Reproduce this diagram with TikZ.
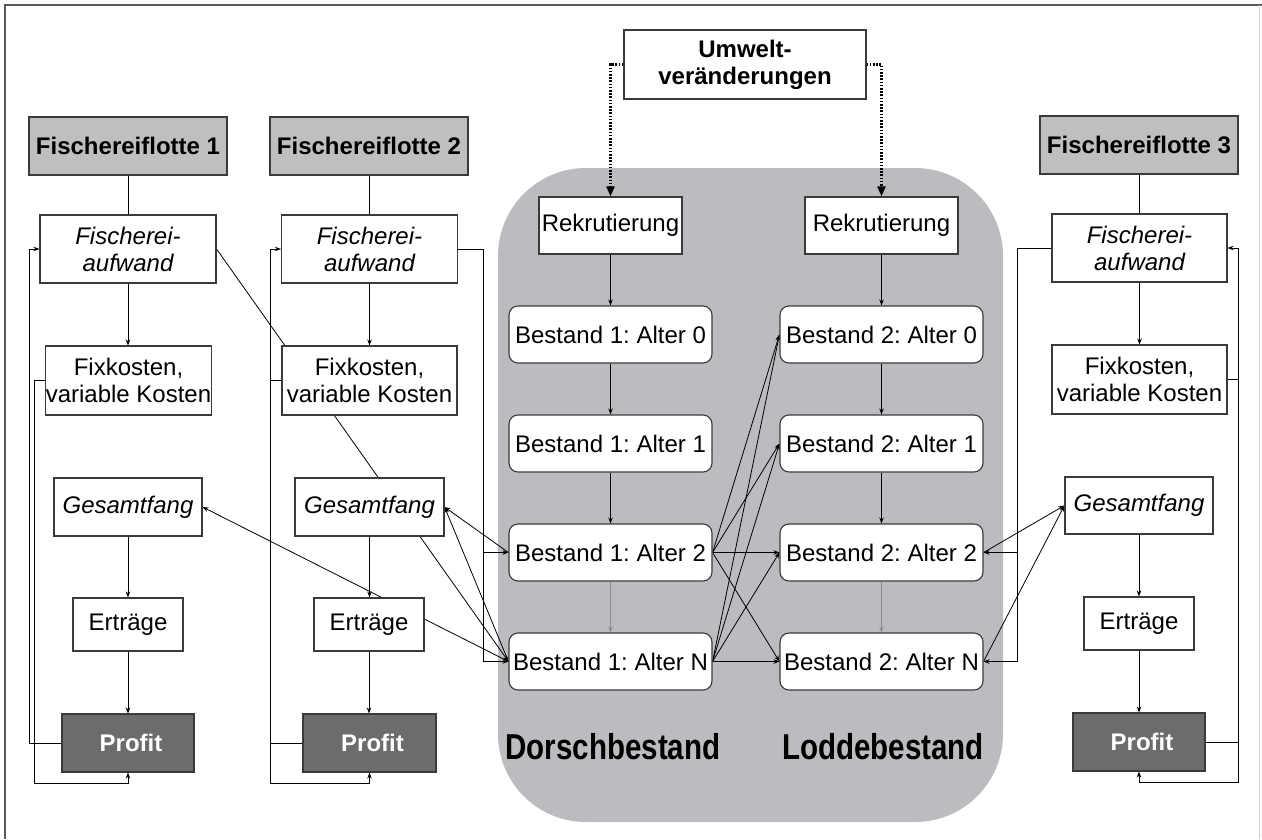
\documentclass[tikz,border=0pt]{standalone}
\usepackage{fontspec}
\setmainfont{Liberation Sans}
\newfontfamily\condfont[FakeStretch=0.82]{Liberation Sans}
\usetikzlibrary{arrows.meta}
\pgfdeclarelayer{bg}
\pgfdeclarelayer{edges}
\pgfsetlayers{bg,edges,main}
\definecolor{regiongrey}{HTML}{BBBCC0}
\definecolor{hdgrey}{HTML}{BEBFC1}
\definecolor{pfgrey}{HTML}{6B6C6E}
\definecolor{boxline}{HTML}{3A3A3A}
\newcommand{\normsize}{\fontsize{24}{27}\selectfont}
\frenchspacing
\begin{document}
\begin{tikzpicture}[x=1pt,y=-1pt,
  bx/.style={draw=boxline, fill=white, line width=1.1pt, inner sep=0pt, font=\normsize, align=center},
  itbx/.style={bx, font=\normsize\itshape},
  rbx/.style={bx, rounded corners=9pt, minimum width=203pt, minimum height=57pt},
  hd/.style={bx, fill=hdgrey, font=\normsize\bfseries, minimum width=198pt, minimum height=58pt},
  pf/.style={bx, fill=pfgrey, text=white, font=\normsize\bfseries},
  big/.style={font=\condfont\bfseries\fontsize{36}{40}\selectfont, anchor=base, inner sep=0pt},
  ln/.style={line width=0.8pt, draw=black},
  ar/.style={ln, -{Stealth[length=6pt,width=4.5pt]}},
  gar/.style={ar, draw=black!45},
  dar/.style={line width=2.2pt, dash pattern=on 1.6pt off 1.6pt, -{Triangle[length=10pt,width=8pt]}},
]
\useasboundingbox (0,0) rectangle (1262,839);

\begin{pgfonlayer}{bg}
\fill[white] (0,0) rectangle (1262,839);
% Frame
\draw[line width=2pt, draw=black!65] (5,839) -- (5,5) -- (1262,5);
\draw[line width=1pt, draw=black!18] (1259,5) -- (1259,839);
% Grey region
\fill[regiongrey, rounded corners=88pt] (498,168) rectangle (1003,822);
\end{pgfonlayer}

% Fleet 1
\node[hd] (f1) at (128,146) {Fischereiflotte 1};
\node[itbx, minimum width=176pt, minimum height=68pt] (a1) at (128,249) {Fischerei-\\aufwand};
\node[bx, minimum width=165pt, minimum height=69pt] (k1) at (128.5,380.5) {Fixkosten,\\variable Kosten};
\node[itbx, minimum width=148pt, minimum height=58pt] (g1) at (128,507) {Gesamtfang};
\node[bx, minimum width=110pt, minimum height=53pt] (e1) at (128,624.5) {Erträge};
\node[pf, minimum width=132pt, minimum height=58pt] (p1) at (128,743) {\hspace{6pt}Profit};

% Fleet 2
\node[hd] (f2) at (369,146) {Fischereiflotte 2};
\node[itbx, minimum width=176pt, minimum height=68pt] (a2) at (369.5,249) {Fischerei-\\aufwand};
\node[bx, minimum width=175pt, minimum height=69pt] (k2) at (369.5,380.5) {Fixkosten,\\variable Kosten};
\node[itbx, minimum width=149pt, minimum height=58pt] (g2) at (369.5,507) {Gesamtfang};
\node[bx, minimum width=110pt, minimum height=53pt] (e2) at (369,624.5) {Erträge};
\node[pf, minimum width=133pt, minimum height=58pt] (p2) at (369.5,743) {\hspace{6pt}Profit};

% Fleet 3
\node[hd] (f3) at (1139,145) {Fischereiflotte 3};
\node[itbx, minimum width=175pt, minimum height=68pt] (a3) at (1139.5,248) {Fischerei-\\aufwand};
\node[bx, minimum width=175pt, minimum height=69pt] (k3) at (1139.5,379.5) {Fixkosten,\\variable Kosten};
\node[itbx, minimum width=148pt, minimum height=57pt] (g3) at (1139,505.5) {Gesamtfang};
\node[bx, minimum width=110pt, minimum height=53pt] (e3) at (1139,623.5) {Erträge};
\node[pf, minimum width=132pt, minimum height=58pt] (p3) at (1139,742) {\hspace{6pt}Profit};

% Environment
\node[bx, font=\normsize\bfseries, minimum width=242pt, minimum height=69pt] (um) at (745,64.5) {Umwelt-\\veränderungen};

% Stocks
\node[bx, minimum width=143pt, minimum height=57pt] (r1) at (610.5,225.5) {Rekrutierung};
\node[bx, minimum width=153pt, minimum height=57pt] (r2) at (881.5,225.5) {Rekrutierung};
\node[rbx] (b10) at (610.5,334.5) {Bestand 1: Alter 0};
\node[rbx] (b11) at (610.5,443.5) {Bestand 1: Alter 1};
\node[rbx] (b12) at (610.5,552.5) {Bestand 1: Alter 2};
\node[rbx] (b1n) at (610.5,661.5) {Bestand 1: Alter N};
\node[rbx] (b20) at (881.5,334.5) {Bestand 2: Alter 0};
\node[rbx] (b21) at (881.5,443.5) {Bestand 2: Alter 1};
\node[rbx] (b22) at (881.5,552.5) {Bestand 2: Alter 2};
\node[rbx] (b2n) at (881.5,661.5) {Bestand 2: Alter N};
\node[big] (dorsch) at (613,759) {Dorschbestand};
\node[big] (lodde) at (883,759) {Loddebestand};

\coordinate (j2) at (483,552.5);
\coordinate (j3) at (1017,552.5);

\begin{pgfonlayer}{edges}
% fleet 1
\draw[ln] (f1) -- (a1);
\draw[ar] (a1.south) -- (a1.south |- k1.north);
\draw[ar] (g1) -- (e1);
\draw[ar] (e1) -- (p1);
\draw[ar] (k1.west) -- (34.5,380.5) -- (34.5,783) -| (p1.south);
\draw[ar] (p1.west) -- (29,743) -- (29,249) -- (a1.west);
% fleet 2
\draw[ln] (f2) -- (a2.north -| f2);
\draw[ar] (a2.south) -- (a2.south |- k2.north);
\draw[ar] (g2.south) -- (g2.south |- e2.north);
\draw[ar] (e2.south) -- (e2.south |- p2.north);
\draw[ar] (k2.west) -- (270,380.5) -- (270,783) -| (p2.south);
\draw[ar] (p2.west) -- (270,743) -- (270,249) -- (a2.west);
\draw[ar] (a2.east) -- (483,249) |- (b1n.west);
\draw[ar] (j2) -- (b12.west);
% fleet 3
\draw[ln] (f3) -- (a3.north -| f3);
\draw[ar] (a3.south) -- (a3.south |- k3.north);
\draw[ar] (g3) -- (e3);
\draw[ar] (e3) -- (p3);
\draw[ar] (k3.east) -- (1238,379.5) -- (1238,782) -| (p3.south);
\draw[ar] (p3.east) -- (1238,742) -- (1238,248) -- (a3.east);
\draw[ar] (a3.west) -- (1017,248) |- (b2n.east);
\draw[ar] (j3) -- (b22.east);
% diagonals
\draw[ar] (a1.east) -- (b1n.west);
\draw[ar] (b1n.west) -- (g1.east);
\draw[ar] (b12.west) -- (g2.east);
\draw[ar] (b1n.west) -- (g2.east);
\draw[ar] (b22.east) -- (g3.west);
\draw[ar] (b2n.east) -- (g3.west);
% cross links between stocks
\foreach \s in {b12,b1n}{
  \foreach \t in {b20,b21,b22,b2n}{
    \draw[ar] (\s.east) -- (\t.west);
  }
}
% chains
\draw[ar] (r1) -- (b10);
\draw[ar] (b10) -- (b11);
\draw[ar] (b11) -- (b12);
\draw[gar] (b12) -- (b1n);
\draw[ar] (r2) -- (b20);
\draw[ar] (b20) -- (b21);
\draw[ar] (b21) -- (b22);
\draw[gar] (b22) -- (b2n);
% environment
\draw[dar] (um.west) -| (r1.north);
\draw[dar] (um.east) -| (r2.north);
\end{pgfonlayer}
\end{tikzpicture}
\end{document}
